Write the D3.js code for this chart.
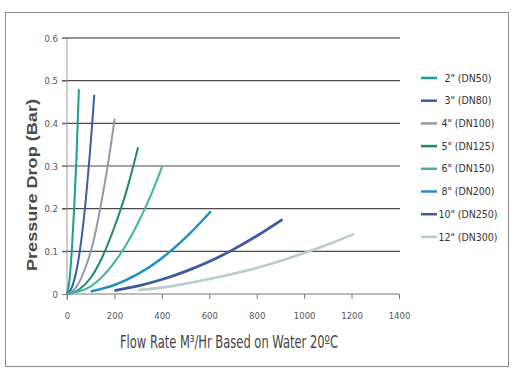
<!DOCTYPE html>
<html>
<head>
<meta charset="utf-8">
<script src="https://cdn.jsdelivr.net/npm/d3@7/dist/d3.min.js"></script>
<style>
  body { margin: 0; background: #fff; }
  svg text { font-family: "DejaVu Sans", sans-serif; font-stretch: condensed; }
</style>
</head>
<body>
<div id="chart"></div>
<script>
// pipe sizes
const sizes = ['2" (DN50)', '3" (DN80)', '4" (DN100)', '5" (DN125)', '6" (DN150)', '8" (DN200)', '10" (DN250)', '12" (DN300)'];
const colors = ["#1b9e94", "#3c5ba8", "#8f9ba6", "#1a8b6b", "#3db79f", "#2090c0", "#3d5a9e", "#b7cdce"];
const widths = [2, 2, 2, 2, 2, 2.5, 2.8, 2.6];

// flow (m3/hr) and pressure drop (bar)
const flow2 = [0, 10, 20, 30, 40, 50];
const drop2 = [0, 0.03, 0.1, 0.2, 0.32, 0.48];
const flow3 = [0, 20, 40, 60, 80, 95, 105, 115];
const drop3 = [0, 0.015, 0.055, 0.125, 0.225, 0.32, 0.39, 0.467];
const flow4 = [0, 40, 80, 110, 140, 170, 201];
const drop4 = [0, 0.017, 0.065, 0.12, 0.2, 0.295, 0.411];
const flow5 = [0, 50, 100, 150, 200, 250, 300];
const drop5 = [0, 0.01, 0.038, 0.088, 0.157, 0.24, 0.344];
const flow6 = [0, 100, 200, 250, 300, 350, 401];
const drop6 = [0, 0.018, 0.074, 0.116, 0.167, 0.227, 0.298];
const flow8 = [100, 200, 300, 400, 500, 607];
const drop8 = [0.006, 0.021, 0.047, 0.084, 0.132, 0.194];
const flow10 = [200, 300, 400, 500, 600, 700, 800, 909];
const drop10 = [0.008, 0.019, 0.034, 0.053, 0.076, 0.104, 0.136, 0.175];
const flow12 = [300, 400, 600, 800, 1000, 1100, 1211];
const drop12 = [0.009, 0.015, 0.035, 0.061, 0.096, 0.116, 0.141];

const xTicks = [0, 200, 400, 600, 800, 1000, 1200, 1400];
const yTicks = [0, 0.1, 0.2, 0.3, 0.4, 0.5, 0.6];

const flows = [flow2, flow3, flow4, flow5, flow6, flow8, flow10, flow12];
const drops = [drop2, drop3, drop4, drop5, drop6, drop8, drop10, drop12];
const series = sizes.map((s, i) => ({
    name: s,
    color: colors[i],
    width: widths[i],
    points: flows[i].map((f, j) => ({ x: f, y: drops[i][j] }))
}));

const W = 520, H = 376;
const svg = d3.select("#chart").append("svg")
    .attr("width", W)
    .attr("height", H);

// frame
svg.append("rect")
    .attr("x", 5.5).attr("y", 12.5)
    .attr("width", 503).attr("height", 354)
    .attr("fill", "#fff")
    .attr("stroke", "#8a8a8a")
    .attr("stroke-width", 1);

const x = d3.scaleLinear().domain([0, 1400]).range([67, 399]);
const y = d3.scaleLinear().domain([0, 0.6]).range([294, 38]);

// horizontal grid lines with a short tick on the left
svg.append("g")
    .selectAll("line")
    .data(yTicks.filter(d => d > 0))
    .enter()
    .append("line")
    .attr("x1", x(0) - 5)
    .attr("x2", x(1400) + 1)
    .attr("y1", d => y(d))
    .attr("y2", d => y(d))
    .attr("stroke", d => d === 0.6 ? "#2a2a2a" : "#4a4a4a")
    .attr("stroke-width", 1.2);

// y axis
const yAxis = svg.append("g")
    .attr("transform", `translate(${x(0)},0)`)
    .call(d3.axisLeft(y).tickValues(yTicks).tickSize(5).tickPadding(4).tickFormat(d => d === 0 ? "0" : d3.format(".1f")(d)));
yAxis.select(".domain").attr("stroke", "#9a9a9a").attr("d", `M0,${y(0.6)}V${y(0) + 6}`);
yAxis.selectAll(".tick line").attr("stroke", "#777");
yAxis.selectAll(".tick text").attr("fill", "#555").style("font-size", "9.5px");

// x axis
const xAxis = svg.append("g")
    .attr("transform", `translate(0,${y(0)})`)
    .call(d3.axisBottom(x).tickValues(xTicks).tickSize(5).tickPadding(13).tickFormat(d3.format("d")));
xAxis.select(".domain").attr("stroke", "#777").attr("d", `M${x(0)},0H${x(1400)}`);
xAxis.selectAll(".tick line").attr("stroke", "#777");
xAxis.selectAll(".tick text").attr("fill", "#555").style("font-size", "9.5px");

// curves
const line = d3.line()
    .x(d => x(d.x))
    .y(d => y(d.y))
    .curve(d3.curveMonotoneX);

svg.append("g")
    .selectAll("path")
    .data(series)
    .enter()
    .append("path")
    .attr("d", d => line(d.points))
    .attr("fill", "none")
    .attr("stroke", d => d.color)
    .attr("stroke-width", d => d.width)
    .attr("stroke-linecap", "butt");

// legend
const legend = svg.append("g")
    .selectAll("g")
    .data(series)
    .enter()
    .append("g")
    .attr("transform", (d, i) => `translate(421,${78 + i * 22.7})`);
legend.append("line")
    .attr("x1", 0).attr("x2", 16)
    .attr("stroke", d => d.color)
    .attr("stroke-width", 2.5);
legend.append("text")
    .attr("x", 47)
    .attr("dy", "0.35em")
    .attr("text-anchor", "middle")
    .attr("fill", "#333")
    .style("font-size", "10.5px")
    .text(d => d.name);

// axis titles
svg.append("text")
    .attr("transform", "translate(37,185) rotate(-90)")
    .attr("text-anchor", "middle")
    .attr("fill", "#4a4a4a")
    .style("font-family", "'Liberation Sans', Arial, sans-serif")
    .style("font-stretch", "normal")
    .style("font-size", "15.5px")
    .style("font-weight", "bold")
    .attr("textLength", 172)
    .attr("lengthAdjust", "spacingAndGlyphs")
    .text("Pressure Drop (Bar)");

svg.append("text")
    .attr("x", 229)
    .attr("y", 348)
    .attr("text-anchor", "middle")
    .attr("fill", "#444")
    .style("font-size", "17px")
    .attr("textLength", 218)
    .attr("lengthAdjust", "spacingAndGlyphs")
    .text("Flow Rate M³/Hr Based on Water 20ºC");
</script>
</body>
</html>
